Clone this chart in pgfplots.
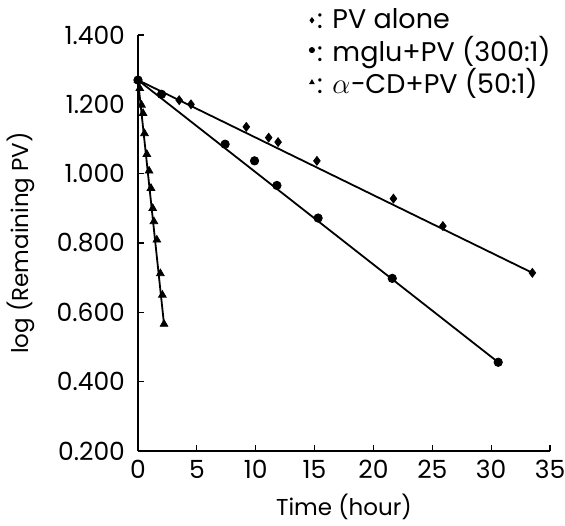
\documentclass[border=0pt]{standalone}
\usepackage{pgfplots}
\pgfplotsset{compat=1.18}
\usepackage{fontspec}
\setmainfont{Poppins}
\begin{document}
\begin{tikzpicture}
\useasboundingbox (-69pt,-37pt) rectangle (213.5pt,225.5pt);
\begin{axis}[
  at={(0,0)}, anchor=south west,
  scale only axis, width=206pt, height=208pt,
  xmin=0, xmax=35, ymin=0.2, ymax=1.4,
  axis x line*=bottom, axis y line*=left,
  axis line style={line width=0.8pt},
  xtick={0,5,...,35},
  ytick={0.2,0.4,...,1.4},
  tick align=inside,
  major tick length=3pt,
  tick style={line width=0.6pt, black},
  /pgf/number format/assume math mode=true,
  ticklabel style={font=\fontsize{12.5}{14}\selectfont},
  xticklabel style={yshift=-1pt},
  yticklabel style={xshift=-3pt, /pgf/number format/.cd, fixed, fixed zerofill, precision=3},
  label style={font=\fontsize{11.5}{13}\selectfont},
  xlabel={Time (hour)},
  xlabel style={yshift=-1pt},
  ylabel={log (Remaining PV)},
  ylabel shift=4pt,
  legend cell align=left,
  legend style={draw=none, fill=none, at={(rel axis cs:0.41,1.075)}, anchor=north west,
    font=\fontsize{13.5}{15}\selectfont, row sep=-0.5pt, inner sep=1pt,
    nodes={inner sep=1.3pt}},
  legend image code/.code={\draw[#1, only marks, mark size=1.3pt] plot coordinates {(0.12cm,0cm)};},
]
% regression lines
\addplot[black, line width=0.9pt, forget plot] coordinates {(0,1.270) (33.5,0.714)};
\addplot[black, line width=0.9pt, forget plot] coordinates {(0,1.270) (30.6,0.456)};
\addplot[black, line width=0.9pt, forget plot] coordinates {(0,1.270) (2.21,0.566)};
% PV alone
\addplot[only marks, mark=diamond*, mark size=2.2pt, black] coordinates {
 (0,1.270) (3.5,1.212) (4.5,1.200) (9.2,1.135) (11.1,1.104) (11.9,1.091)
 (15.2,1.037) (21.7,0.928) (25.9,0.849) (33.5,0.714)};
\addlegendentry{: PV alone}
% mglu + PV
\addplot[only marks, mark=*, mark size=2.1pt, black] coordinates {
 (0,1.270) (2.0,1.229) (7.4,1.085) (9.9,1.037) (11.8,0.966) (15.3,0.872)
 (21.6,0.698) (30.6,0.456)};
\addlegendentry{: mglu+PV (300:1)}
% alpha-CD + PV
\addplot[only marks, mark=triangle*, mark size=2.2pt, black] coordinates {
 (0,1.270) (0.15,1.246) (0.3,1.198) (0.43,1.174) (0.55,1.116) (0.75,1.056)
 (0.94,1.008) (1.1,0.958) (1.25,0.900) (1.35,0.862) (1.6,0.809) (1.9,0.712)
 (2.07,0.650) (2.21,0.566)};
\addlegendentry{: $\alpha$−CD+PV (50:1)}
\end{axis}
\end{tikzpicture}
\end{document}
